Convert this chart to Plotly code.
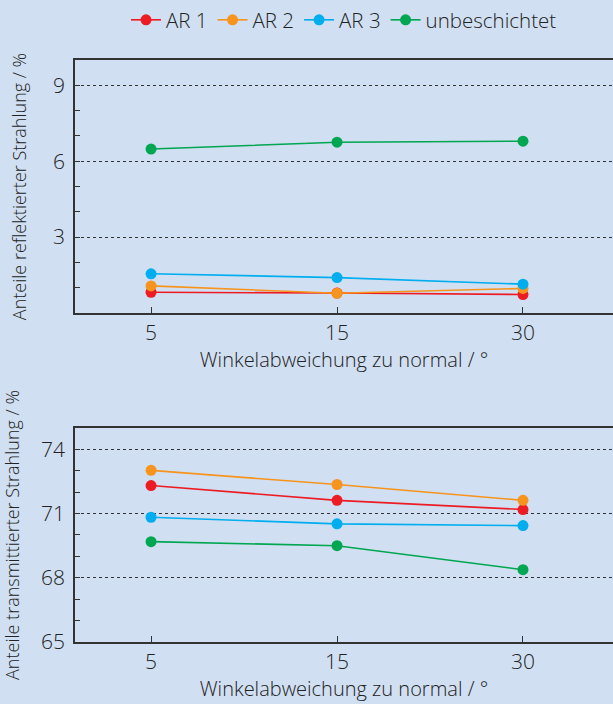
import plotly.graph_objects as go
from plotly.subplots import make_subplots

angles = ["5", "15", "30"]
series_names = ["AR 1", "AR 2", "AR 3", "unbeschichtet"]
colors = ["#ed1c24", "#f7941d", "#00aeef", "#00a651"]

reflected = {
    "AR 1": [0.82, 0.79, 0.73],
    "AR 2": [1.07, 0.78, 0.97],
    "AR 3": [1.55, 1.40, 1.14],
    "unbeschichtet": [6.48, 6.75, 6.79],
}
transmitted = {
    "AR 1": [72.31, 71.62, 71.19],
    "AR 2": [73.02, 72.36, 71.62],
    "AR 3": [70.83, 70.52, 70.44],
    "unbeschichtet": [69.69, 69.50, 68.38],
}

top_ticks = [3, 6, 9]
bottom_ticks = [65, 68, 71, 74]

bg = "#d0dff1"
ink = "#333333"
txt = "#222222"
font_family = "Open Sans"
fw = 300

fig = make_subplots(rows=2, cols=1, vertical_spacing=0.0)

xidx = list(range(len(angles)))
for name, col in zip(series_names, colors):
    fig.add_trace(go.Scatter(x=xidx, y=reflected[name], name=name, mode="lines+markers",
                             line=dict(color=col, width=1.6), marker=dict(color=col, size=11),
                             legendgroup=name, showlegend=True), row=1, col=1)
    fig.add_trace(go.Scatter(x=xidx, y=transmitted[name], name=name, mode="lines+markers",
                             line=dict(color=col, width=1.6), marker=dict(color=col, size=11),
                             legendgroup=name, showlegend=False), row=2, col=1)

xaxis_common = dict(
    tickmode="array", tickvals=xidx, ticktext=angles,
    range=[-0.409, 2.484], showgrid=False, zeroline=False,
    showline=True, linecolor=ink, linewidth=1.5, mirror=True,
    ticks="inside", ticklen=6, tickcolor=ink, tickwidth=1.2,
    tickfont=dict(size=21, color=txt, family=font_family, weight=fw),
    title=dict(text="Winkelabweichung zu normal / °", standoff=4,
               font=dict(size=20, color=txt, family=font_family, weight=fw)),
)
fig.update_xaxes(**xaxis_common)
fig.update_xaxes(domain=[0, 1])

yaxis_common = dict(
    showgrid=True, gridcolor=ink, griddash="dot", gridwidth=1.3, zeroline=False,
    showline=True, linecolor=ink, linewidth=1.5,
    ticks="inside", ticklen=5, tickcolor=ink, tickwidth=1.2,
    ticklabelstandoff=4,
    tickfont=dict(size=21, color=txt, family=font_family, weight=fw),
    minor=dict(dtick=1, ticks="inside", ticklen=5, tickcolor=ink, tickwidth=1.2, showgrid=False),
)
fig.update_yaxes(**yaxis_common)
fig.update_yaxes(row=1, col=1, domain=[0.5653, 1.0], range=[0, 10], tickmode="array", tickvals=top_ticks,
                 title=dict(text="Anteile reflektierter Strahlung / %", standoff=22,
                            font=dict(size=18, color=txt, family=font_family, weight=fw)))
fig.update_yaxes(row=2, col=1, domain=[0.0, 0.3677], range=[65, 75], tickmode="array", tickvals=bottom_ticks,
                 title=dict(text="Anteile transmittierter Strahlung / %", standoff=22,
                            font=dict(size=18, color=txt, family=font_family, weight=fw)))

fig.update_layout(
    width=613, height=704,
    margin=dict(l=75, r=0, t=60, b=62),
    paper_bgcolor=bg, plot_bgcolor=bg,
    font=dict(family=font_family, color=txt, weight=fw),
    legend=dict(orientation="h", x=0.5, xanchor="center", y=1.0, yanchor="top",
                yref="container", font=dict(size=20.5, color=txt, family=font_family, weight=fw),
                itemwidth=30, tracegroupgap=0, bgcolor="rgba(0,0,0,0)"),
    showlegend=True,
)

fig.write_html("out.html", config={"displayModeBar": False},
               post_script="document.body.style.margin='0';document.body.style.overflow='hidden';")
